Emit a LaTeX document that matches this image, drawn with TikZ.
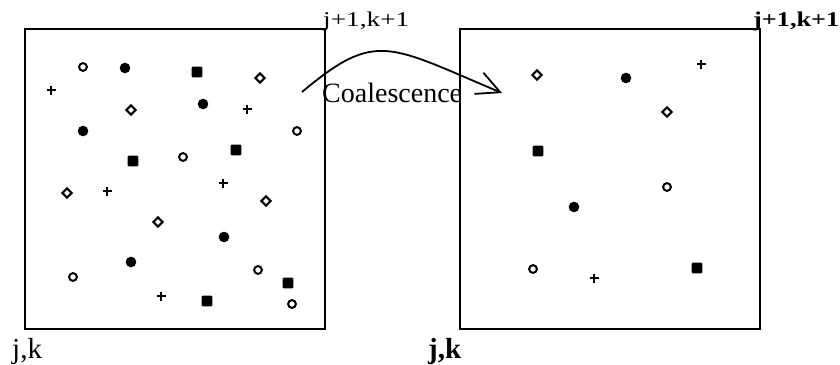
\documentclass[tikz,border=0pt]{standalone}
\usepackage{fontspec}
\setmainfont{Liberation Serif}
\usetikzlibrary{arrows.meta}

\begin{document}
\begin{tikzpicture}[x=1pt,y=-1pt,
    cellbox/.style={line width=2.2pt},
    ring/.style={line width=2pt},
    rhomb/.style={line width=2pt,line join=miter},
    cross/.style={line width=2.2pt},
    lbl/.style={inner sep=0pt,anchor=base west},
    flow/.style={line width=1.8pt,-{Straight Barb[length=23pt,width=23pt,line width=1.8pt]}}]
  \useasboundingbox (0,0) rectangle (840,364);
  \draw[cellbox] (25,29) rectangle (325,329);
  \draw[cellbox] (460,29) rectangle (760,329);
  \foreach \x/\y in {83/67,297/131,183/157,73/277,258/270,292/304,667/187,533/269}{
    \draw[ring] (\x,\y) circle (3.9pt);
  }
  \foreach \x/\y in {125/68,203/104,83/131,224/237,131/262,626/78,574/207}{
    \fill (\x,\y) circle (5.3pt);
  }
  \foreach \x/\y in {197/72,133/161,236/150,288/283,207/301,538/151,697/268}{
    \fill[rounded corners=1pt] (\x-5.3,\y-5.3) rectangle (\x+5.3,\y+5.3);
  }
  \foreach \x/\y in {260/78,131/110,67/193,266/201,158/222,537/75,667/112}{
    \draw[rhomb] (\x,\y-4.6) -- (\x+4.6,\y) -- (\x,\y+4.6) -- (\x-4.6,\y) -- cycle;
  }
  \foreach \x/\y in {51/90,247/109,107/191,223/183,161/296,701/64,594/278}{
    \draw[cross] (\x-4.5,\y) -- (\x+4.5,\y) (\x,\y-4.5) -- (\x,\y+4.5);
  }
  \node[lbl,font=\fontsize{21}{21}\selectfont] (topleft) at (323,27) {\scalebox{1.3}[1]{j+1,k+1}};
  \node[lbl,font=\fontsize{21}{21}\selectfont\bfseries] (topright) at (753,27) {\scalebox{1.25}[1]{j+1,k+1}};
  \node[lbl,font=\fontsize{29}{29}\selectfont] (botleft) at (12,358) {j,k};
  \node[lbl,font=\fontsize{29}{29}\selectfont\bfseries] (botright) at (428,358) {j,k};
  \node[lbl,font=\fontsize{28}{28}\selectfont] (coal) at (322,102) {Coalescence};
  \coordinate (from) at (302,92);
  \coordinate (to) at (502,93);
  \draw[flow] (from) .. controls (376,30) and (388,45) .. (to);
\end{tikzpicture}
\end{document}
